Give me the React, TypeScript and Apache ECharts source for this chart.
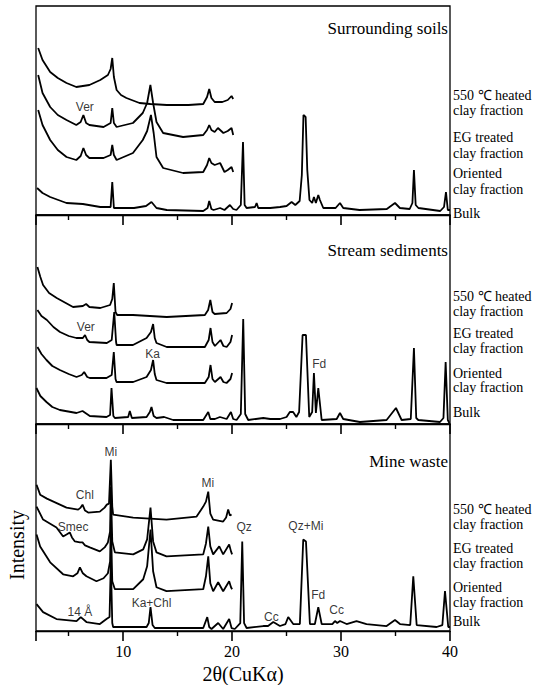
import React, { useEffect, useRef } from 'react';
import * as echarts from 'echarts';

// ---------- data (2θ, offset intensity) ----------
const majorTicks = [10, 20, 30, 40];

const panelTitles = ['Surrounding soils', 'Stream sediments', 'Mine waste'];
const traceLabels = ['550 ℃ heated', 'clay fraction', 'EG treated', 'clay fraction', 'Oriented', 'clay fraction', 'Bulk'];

const soilHeat = [[2.2,167],[2.6,155],[3.3,143],[4.0,137],[4.8,132],[5.7,128],[6.9,130],[7.9,135],[8.6,140],[8.85,146],[9.0,157],[9.15,138],[9.4,125],[9.8,120],[10.3,117],[11.5,112],[12.5,111],[14.0,110],[16.0,110],[17.35,111],[17.7,118],[17.9,126],[18.1,117],[18.4,113],[19.1,113],[19.6,115],[19.95,119],[20.1,116]];
const soilEG = [[2.2,140],[2.6,122],[3.3,108],[4.0,100],[4.8,95],[5.7,90],[6.1,93],[6.35,100],[6.6,92],[6.9,90],[8.2,88],[8.85,92],[9.0,107],[9.15,92],[9.4,88],[10.9,92],[11.8,102],[12.2,112],[12.5,130],[12.75,112],[13.06,93],[13.67,82],[15.5,78],[17.35,80],[17.7,85],[17.9,90],[18.1,85],[18.4,83],[18.7,87],[19.2,82],[19.6,84],[19.95,87],[20.1,80]];
const soilOri = [[2.2,105],[2.6,90],[3.3,75],[4.0,65],[4.8,58],[5.7,55],[6.1,59],[6.35,67],[6.6,60],[6.9,57],[8.2,57],[8.85,60],[9.0,70],[9.15,60],[9.4,55],[10.9,62],[11.8,75],[12.2,84],[12.55,100],[12.8,82],[13.06,58],[13.67,47],[15.5,42],[17.35,43],[17.7,50],[17.9,57],[18.1,52],[18.4,50],[18.9,52],[19.3,43],[19.6,45],[19.95,48],[20.1,43]];
const soilBulk = [[2.1,27],[2.6,22],[3.3,18],[4.8,12],[6.3,11],[7.9,8],[8.85,8],[9.0,33],[9.15,7],[11.0,7],[12.1,9],[12.6,13],[13.06,7],[14.0,5],[17.35,4],[17.75,7],[17.9,14],[18.1,6],[18.3,5],[18.9,7],[19.3,5],[19.8,10],[20.1,6],[20.4,5],[20.8,10],[21.0,73],[21.15,10],[21.33,7],[22.1,8],[22.25,12],[22.4,7],[23.5,7],[24.4,8],[25.0,9],[25.46,13],[25.8,10],[26.2,14],[26.4,40],[26.55,100],[26.75,98],[26.9,45],[27.1,15],[27.35,12],[27.51,18],[27.69,12],[27.91,20],[28.06,15],[28.37,7],[29.5,7],[29.9,12],[30.2,7],[31.7,5],[34.2,6],[34.95,12],[35.4,7],[36.3,6],[36.55,12],[36.69,45],[36.85,10],[37.1,7],[39.1,4],[39.45,8],[39.63,23],[39.8,5],[40,5]];

const streamHeat = [[2.13,157],[2.4,147],[2.65,139],[3.2,131],[3.9,126],[5.4,117],[6.3,118],[6.6,120],[6.9,117],[7.9,116],[8.8,119],[9.0,125],[9.14,141],[9.3,112],[9.45,109],[10.9,109],[14.0,107],[17.5,109],[17.8,114],[18.0,124],[18.2,112],[18.4,110],[19.5,111],[19.85,115],[20.0,121]];
const streamEG = [[2.13,114],[2.5,108],[3.0,104],[3.6,97],[4.2,92],[5.0,88],[5.7,86],[6.3,86],[6.5,89],[6.7,84],[6.9,82],[8.5,81],[8.95,84],[9.18,112],[9.35,82],[9.4,79],[10.9,79],[12.15,86],[12.55,92],[12.75,100],[12.9,86],[13.06,81],[14.0,77],[17.5,77],[17.85,84],[18.02,96],[18.2,82],[18.42,78],[18.94,84],[19.2,78],[19.5,77],[19.85,82],[20.0,89]];
const streamOri = [[2.13,77],[2.5,70],[2.96,64],[3.5,58],[4.19,54],[5.0,50],[5.72,47],[6.2,49],[6.42,52],[6.7,47],[6.94,46],[8.47,46],[8.95,49],[9.14,72],[9.3,45],[9.39,42],[10.92,42],[12.15,47],[12.55,54],[12.75,64],[12.9,50],[13.06,44],[13.98,41],[17.5,41],[17.85,47],[18.02,59],[18.2,45],[18.42,42],[18.94,47],[19.2,42],[19.49,41],[19.85,45],[20.0,51]];
const streamBulk = [[2.04,36],[2.4,28],[2.96,22],[3.5,17],[4.19,14],[5.72,11],[6.27,13],[6.94,8],[8.47,7],[8.8,9],[8.93,36],[9.1,8],[9.24,6],[10.46,7],[10.61,13],[10.8,6],[12.15,7],[12.45,12],[12.6,17],[12.8,8],[13.06,6],[13.76,7],[14.59,4],[17.35,4],[17.81,12],[18.0,5],[18.42,5],[18.88,7],[19.5,5],[19.89,12],[20.1,5],[20.41,4],[20.8,10],[21.02,105],[21.2,10],[21.48,4],[22.86,6],[23.5,5],[24.4,5],[25.0,7],[25.3,12],[25.6,12],[25.9,7],[26.15,12],[26.47,89],[26.78,89],[27.08,7],[27.35,12],[27.51,51],[27.69,11],[27.91,36],[28.22,4],[29.6,5],[29.9,11],[30.2,5],[31.73,2],[34.18,4],[35.04,16],[35.56,4],[36.4,5],[36.69,76],[36.9,6],[37.09,4],[39.08,2],[39.4,6],[39.6,62],[39.8,4],[39.94,1]];

const mineHeat = [[2.05,147],[2.38,137],[3.0,133],[3.6,130],[4.8,124],[5.87,122],[6.1,124],[6.27,127],[6.5,121],[6.79,119],[7.86,120],[8.3,124],[8.5,127],[8.7,128],[8.87,172],[9.0,125],[9.08,117],[10.92,114],[13.98,112],[16.74,115],[17.35,125],[17.6,130],[17.81,140],[18.0,118],[18.26,112],[19.18,110],[19.45,114],[19.64,122],[19.8,116],[19.95,117]];
const mineEG = [[2.05,125],[2.65,112],[3.88,104],[4.49,95],[4.8,97],[5.1,99],[5.3,94],[5.57,90],[6.03,89],[6.27,89],[6.5,86],[6.94,84],[7.86,80],[8.3,84],[8.6,89],[8.8,100],[8.87,145],[9.0,90],[9.24,79],[10.92,77],[11.84,82],[12.2,92],[12.51,124],[12.75,90],[13.06,79],[13.98,75],[17.35,77],[17.6,88],[17.81,105],[18.0,85],[18.26,77],[18.82,85],[19.18,77],[19.73,87],[19.9,80],[20.0,77]];
const mineOri = [[2.05,97],[2.38,85],[3.3,69],[4.49,57],[5.41,55],[5.8,58],[6.03,64],[6.3,58],[6.63,55],[7.55,50],[8.2,53],[8.6,58],[8.8,70],[8.87,112],[9.0,50],[9.24,42],[10.92,42],[11.84,52],[12.2,65],[12.51,102],[12.75,60],[13.06,44],[13.98,40],[17.35,42],[17.6,55],[17.81,75],[18.0,48],[18.26,40],[18.72,49],[19.18,40],[19.73,50],[19.9,44],[20.0,42]];
const mineBulk = [[2.05,27],[2.65,19],[3.88,12],[5.72,10],[6.11,14],[6.63,9],[7.86,7],[8.47,12],[8.75,14],[8.87,70],[9.0,8],[9.08,4],[12.15,4],[12.35,8],[12.51,24],[12.7,6],[12.9,3],[17.35,3],[17.72,14],[17.9,4],[18.11,2],[18.72,8],[19.18,2],[19.73,12],[19.95,3],[20.25,2],[20.75,8],[20.93,90],[21.1,8],[21.33,3],[22.86,5],[23.3,5],[23.78,9],[24.39,5],[24.9,7],[25.15,14],[25.61,7],[26.22,7],[26.53,92],[26.78,90],[27.14,7],[27.6,7],[27.91,24],[28.22,7],[29.2,7],[29.44,10],[29.65,8],[29.9,10],[30.51,7],[31.42,10],[32.34,7],[34.18,5],[34.95,11],[35.41,7],[36.35,6],[36.63,55],[36.94,6],[38.77,4],[39.3,6],[39.54,40],[39.84,4],[40,4]];

const soilNotes = [{ name: 'Ver', value: [6.48, 108] }];
const streamNotes = [
  { name: 'Ver', value: [6.57, 97] },
  { name: 'Ka', value: [12.7, 70] },
  { name: 'Fd', value: [28.0, 60] },
];
const mineNotes = [
  { name: 'Mi', value: [8.86, 180] },
  { name: 'Chl', value: [6.48, 137] },
  { name: 'Smec', value: [5.41, 105] },
  { name: 'Mi', value: [17.77, 149] },
  { name: 'Qz', value: [21.1, 105] },
  { name: '14 Å', value: [6.03, 19] },
  { name: 'Ka+Chl', value: [12.6, 28] },
  { name: 'Qz+Mi', value: [26.77, 106] },
  { name: 'Fd', value: [27.9, 36] },
  { name: 'Cc', value: [29.6, 21] },
  { name: 'Cc', value: [23.6, 14] },
];

const SERIF = '"Liberation Serif", "Times New Roman", serif';
const SANS = '"Liberation Sans", Arial, sans-serif';

export default function App() {
  const ref = useRef<HTMLDivElement>(null);

  useEffect(() => {
    const chart = echarts.init(ref.current!, null, { renderer: 'svg' });

    const panels = [
      { top: 6, height: 209, traces: [soilHeat, soilEG, soilOri, soilBulk], notes: soilNotes, titleY: 28, labelY: [95, 110, 137, 153, 173, 189, 213] },
      { top: 215, height: 209, traces: [streamHeat, streamEG, streamOri, streamBulk], notes: streamNotes, titleY: 250, labelY: [296, 311, 333, 348, 373, 387, 412] },
      { top: 424, height: 208, traces: [mineHeat, mineEG, mineOri, mineBulk], notes: mineNotes, titleY: 461, labelY: [509, 524, 548, 563, 587, 602, 621] },
    ];

    const grid: any[] = [];
    const xAxis: any[] = [];
    const yAxis: any[] = [];
    const series: any[] = [];
    const graphic: any[] = [];

    panels.forEach((p, i) => {
      const isLast = i === panels.length - 1;
      grid.push({ left: 36, right: 86, top: p.top, height: p.height, show: true, borderColor: '#000', borderWidth: 1.3, backgroundColor: 'transparent' });
      xAxis.push({
        gridIndex: i, type: 'value', min: 2, max: 40, position: 'bottom', z: 20,
        axisLine: { show: true, lineStyle: { color: '#000', width: 1.3 } },
        axisTick: { show: true, inside: false, length: 10, lineStyle: { color: '#000', width: 1.6 } },
        minorTick: { show: true, splitNumber: 2, length: 5, lineStyle: { color: '#000', width: 1.4 } },
        axisLabel: { show: isLast, customValues: majorTicks, margin: 12, color: '#000', fontFamily: SERIF, fontSize: 16 },
        splitLine: { show: false },
        minorSplitLine: { show: false },
        name: isLast ? '2θ(CuKα)' : '',
        nameLocation: 'middle', nameGap: 33,
        nameTextStyle: { color: '#000', fontFamily: SERIF, fontSize: 20 },
      });
      // y units equal pixels (0..panel height)
      yAxis.push({ gridIndex: i, type: 'value', min: 0, max: p.height, show: false, splitLine: { show: false } });

      p.traces.forEach((d) => {
        series.push({
          type: 'line', xAxisIndex: i, yAxisIndex: i, data: d,
          symbol: 'none', showSymbol: false, silent: true,
          lineStyle: { color: '#000', width: 1.8 },
        });
      });
      series.push({
        type: 'scatter', xAxisIndex: i, yAxisIndex: i, data: p.notes,
        symbolSize: 1, silent: true, itemStyle: { color: 'transparent' },
        label: { show: true, position: 'inside', formatter: '{b}', color: '#000', textBorderWidth: 0, fontFamily: SANS, fontSize: 12 },
        emphasis: { disabled: true },
      });

      graphic.push({
        type: 'text', x: 448, y: p.titleY,
        style: { text: panelTitles[i], font: `17px ${SERIF}`, fill: '#000', align: 'right', verticalAlign: 'middle', textAlign: 'right', textVerticalAlign: 'middle' },
      });
      traceLabels.forEach((t, k) => {
        graphic.push({
          type: 'text', x: 453, y: p.labelY[k],
          style: { text: t, font: `14px ${SERIF}`, fill: '#000', align: 'left', verticalAlign: 'middle', textAlign: 'left', textVerticalAlign: 'middle' },
        });
      });
    });

    graphic.push({
      type: 'text', x: 17, y: 545, rotation: Math.PI / 2,
      style: { text: 'Intensity', font: `20px ${SERIF}`, fill: '#000', align: 'center', verticalAlign: 'middle', textAlign: 'center', textVerticalAlign: 'middle' },
    });

    chart.setOption({
      animation: false,
      backgroundColor: '#fff',
      grid, xAxis, yAxis, series, graphic,
    });

    return () => chart.dispose();
  }, []);

  return <div ref={ref} style={{ position: 'absolute', left: 0, top: 0, width: 536, height: 685 }} />;
}
